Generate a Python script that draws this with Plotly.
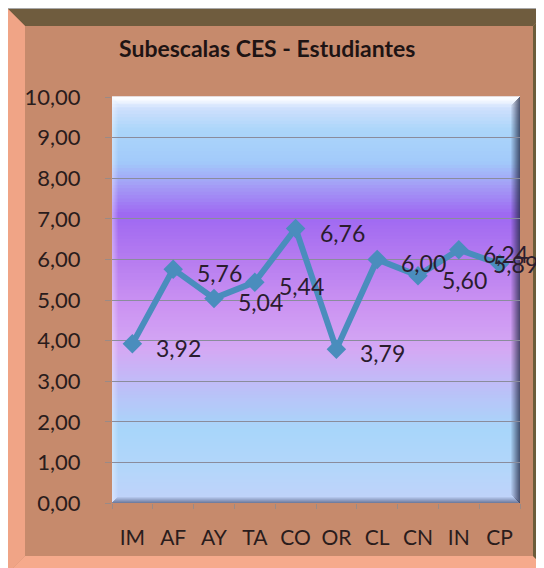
import plotly.graph_objects as go

categories = ["IM", "AF", "AY", "TA", "CO", "OR", "CL", "CN", "IN", "CP"]
values = [3.92, 5.76, 5.04, 5.44, 6.76, 3.79, 6.00, 5.60, 6.24, 5.89]
y_ticks = [0, 1, 2, 3, 4, 5, 6, 7, 8, 9, 10]
title_text = "Subescalas CES - Estudiantes"

W, H = 544, 568
OFF = 8  # page body margin
L, R, T, B = 112 - OFF, 520 - OFF, 97 - OFF, 503 - OFF


def px(x):
    return (x - OFF - L) / (R - L)


def py(y):
    return (B - (y - OFF)) / (B - T)


def hex2rgb(h):
    h = h.lstrip("#")
    return tuple(int(h[i:i + 2], 16) for i in (0, 2, 4))


def lerp_color(stops, f):
    for (f0, c0), (f1, c1) in zip(stops, stops[1:]):
        if f0 <= f <= f1:
            t = 0 if f1 == f0 else (f - f0) / (f1 - f0)
            a, b = hex2rgb(c0), hex2rgb(c1)
            return "rgb(%d,%d,%d)" % tuple(round(a[i] + (b[i] - a[i]) * t) for i in range(3))
    return stops[-1][1]


grad_stops = [
    (0.00, "#c2d2fa"),
    (0.08, "#b4d6fa"),
    (0.18, "#a8d6fa"),
    (0.28, "#bcc0f8"),
    (0.38, "#d4a8f4"),
    (0.48, "#cc94f2"),
    (0.60, "#b67cf0"),
    (0.71, "#9e68f2"),
    (0.78, "#a49cf6"),
    (0.84, "#a2cafa"),
    (0.92, "#acd6fa"),
    (0.97, "#cddffc"),
    (1.00, "#f4f8ff"),
]

shapes = []


def poly(points, color, layer="below", opacity=1.0):
    path = "M " + " L ".join("%f,%f" % (px(x), py(y)) for x, y in points) + " Z"
    return dict(type="path", xref="paper", yref="paper", path=path,
                fillcolor=color, line=dict(width=0), layer=layer, opacity=opacity)


# outer frame (page pixel coordinates)
shapes.append(poly([(7, 8), (560, 8), (560, 580), (7, 580)], "#a8a8a8"))
shapes.append(poly([(8, 9), (560, 9), (560, 580), (8, 580)], "#c68a6c"))
shapes.append(poly([(8, 9), (550, 9), (533, 26), (25, 26)], "#6f5c3e"))
shapes.append(poly([(8, 9), (25, 26), (25, 556), (8, 573)], "#f0a486"))
shapes.append(poly([(8, 573), (25, 556), (533, 556), (550, 573)], "#f6aa8c"))
shapes.append(poly([(550, 9), (533, 26), (533, 556), (550, 573)], "#6c5c3a"))

# panel gradient
N = 120
for i in range(N):
    f0, f1 = i / N, (i + 1) / N
    shapes.append(dict(type="rect", xref="paper", yref="paper", x0=0, x1=1,
                       y0=f0, y1=f1 + 0.002, fillcolor=lerp_color(grad_stops, (f0 + f1) / 2),
                       line=dict(width=0), layer="below"))

PL, PR, PT, PB = L + OFF, R + OFF, T + OFF, B + OFF
for k in range(8):
    a = 0.75 * (1 - k / 8)
    shapes.append(poly([(PL + k, PT + k), (PR - k, PT + k), (PR - k - 1, PT + k + 1), (PL + k + 1, PT + k + 1)],
                       "white", opacity=a))
for k in range(6):
    a = 0.35 * (1 - k / 6)
    shapes.append(poly([(PL + k, PT + k), (PL + k + 1, PT + k), (PL + k + 1, PB - k), (PL + k, PB - k)],
                       "white", opacity=a))
for k in range(9):
    a = 0.75 * (1 - k / 9)
    shapes.append(poly([(PR - k - 1, PT + k), (PR - k, PT + k), (PR - k, PB - k), (PR - k - 1, PB - k)],
                       "#262c48", opacity=a))
for k in range(6):
    a = 0.55 * (1 - k / 6)
    shapes.append(poly([(PL + k, PB - k - 1), (PR - k, PB - k - 1), (PR - k, PB - k), (PL + k, PB - k)],
                       "#303858", opacity=a))

label_text = [("%.2f" % v).replace(".", ",") for v in values]

fig = go.Figure()
fig.add_trace(go.Scatter(
    x=categories, y=values, mode="lines+markers",
    line=dict(color="#4a8dbd", width=6),
    marker=dict(symbol="diamond", size=15, color="#4a8dbd"),
    hoverinfo="skip", showlegend=False, cliponaxis=False,
))

annotations = []
n = len(categories)
for i, (c, v, t) in enumerate(zip(categories, values, label_text)):
    last = i == n - 1
    annotations.append(dict(x=c, y=v, xref="x", yref="y", text=t, showarrow=False,
                            xanchor="left", yanchor="middle",
                            xshift=-9 if last else 22, yshift=0 if last else -4,
                            font=dict(family="Lato", size=23, color="#2a1c2e")))
annotations.append(dict(x=px(267), y=py(48), xref="paper", yref="paper", text="<b>" + title_text + "</b>",
                        showarrow=False, xanchor="center", yanchor="middle",
                        font=dict(family="Lato", size=23, color="#1e1414")))

fig.update_layout(
    width=W, height=H,
    margin=dict(l=L, r=W - R, t=T, b=H - B, pad=0),
    paper_bgcolor="white",
    plot_bgcolor="rgba(0,0,0,0)",
    separators=",.",
    shapes=shapes,
    annotations=annotations,
    font=dict(family="Lato", size=22, color="#2a1c1c"),
    xaxis=dict(type="category", categoryorder="array", categoryarray=categories,
               range=[-0.5, len(categories) - 0.5], tickson="boundaries",
               ticks="outside", ticklen=5, tickcolor="#9a8a86", showgrid=False,
               showline=False, zeroline=False, ticklabelstandoff=20, tickangle=0,
               tickfont=dict(family="Lato", size=21, color="#2a1c1c")),
    yaxis=dict(range=[0, 10], tickvals=y_ticks, tickformat=".2f",
               showgrid=True, gridcolor="#8a8c9c", gridwidth=1,
               ticks="outside", ticklen=6, tickcolor="#9a8a86",
               showline=False, zeroline=False, ticklabelstandoff=20,
               tickfont=dict(family="Lato", size=22, color="#2a1c1c")),
)

fig.write_html("out.html")
